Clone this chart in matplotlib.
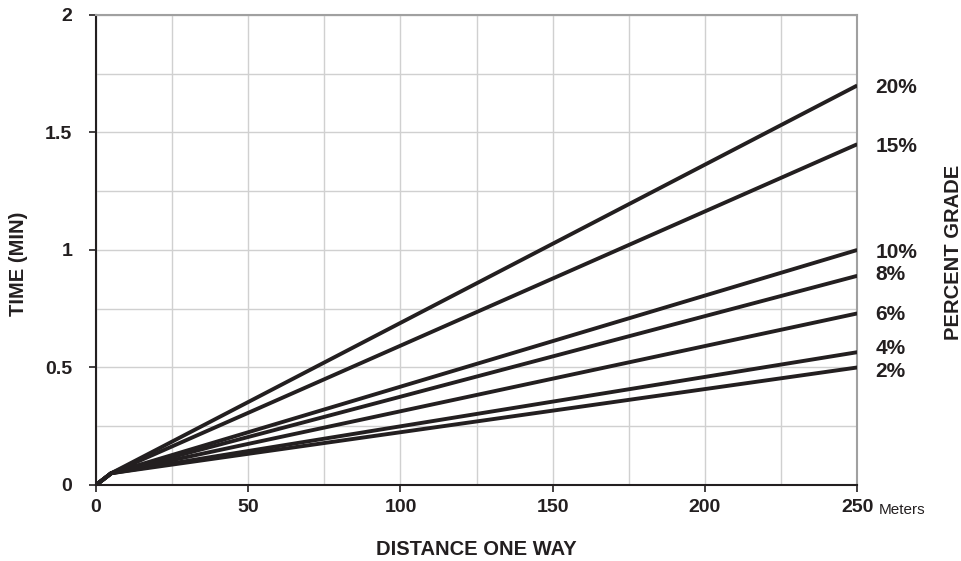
import matplotlib
matplotlib.use("Agg")
import matplotlib.pyplot as plt

# distance (m) and time (min) for each grade
distance = [0, 5, 250]
grades = ["20%", "15%", "10%", "8%", "6%", "4%", "2%"]
time_20 = [0, 0.05, 1.70]
time_15 = [0, 0.05, 1.45]
time_10 = [0, 0.05, 1.00]
time_8 = [0, 0.05, 0.89]
time_6 = [0, 0.05, 0.73]
time_4 = [0, 0.05, 0.565]
time_2 = [0, 0.05, 0.50]
series = [time_20, time_15, time_10, time_8, time_6, time_4, time_2]
# label heights at right edge (slightly nudged so 4%/2% don't collide)
label_y = [1.69, 1.44, 0.99, 0.895, 0.725, 0.58, 0.485]

x_ticks = [0, 50, 100, 150, 200, 250]
y_ticks = [0, 0.5, 1, 1.5, 2]
y_tick_labels = ["0", "0.5", "1", "1.5", "2"]

plt.rcParams['font.family'] = ['Liberation Sans', 'DejaVu Sans']

fig = plt.figure(figsize=(9.62, 5.61), dpi=100)
ax = fig.add_axes([0.0998, 0.1355, 0.7913, 0.8378])

for vals in series:
    ax.plot(distance, vals, color='#231f20', lw=2.8, solid_capstyle='butt', zorder=3)

ax.set_xlim(0, 250)
ax.set_ylim(0, 2)
ax.set_xticks(x_ticks)
ax.set_xticks(range(0, 251, 25), minor=True)
ax.set_yticks(y_ticks)
ax.set_yticklabels(y_tick_labels)
ax.set_yticks([0.25 * i for i in range(9)], minor=True)
ax.grid(True, which='both', color='#d0d0d0', lw=1.0, zorder=0)
ax.tick_params(which='minor', length=0)
ax.tick_params(which='major', direction='out', length=5, width=1.2, color='#231f20',
               labelsize=14, pad=5)
for lab in ax.get_xticklabels() + ax.get_yticklabels():
    lab.set_fontweight('bold')
    lab.set_color('#231f20')
ax.tick_params(axis='y', pad=12)

for s in ['left', 'bottom']:
    ax.spines[s].set_color('#231f20')
    ax.spines[s].set_linewidth(1.5)
for s in ['top', 'right']:
    ax.spines[s].set_color('#a0a0a0')
    ax.spines[s].set_linewidth(1.5)

for g, yv in zip(grades, label_y):
    ax.text(256, yv, g, fontsize=15, fontweight='bold', color='#231f20',
            va='center', ha='left', clip_on=False)

ax.text(257, -0.105, "Meters", fontsize=11, color='#231f20', va='center', ha='left',
        clip_on=False)

fig.text(0.019, 0.53, "TIME (MIN)", rotation=90, fontsize=14.5, fontweight='bold',
         color='#231f20', va='center', ha='center')
fig.text(0.495, 0.02, "DISTANCE ONE WAY", fontsize=14.5, fontweight='bold',
         color='#231f20', va='center', ha='center')
fig.text(0.991, 0.55, "PERCENT GRADE", rotation=90, fontsize=14.5, fontweight='bold',
         color='#231f20', va='center', ha='center')

fig.savefig("out.png", dpi=100)
